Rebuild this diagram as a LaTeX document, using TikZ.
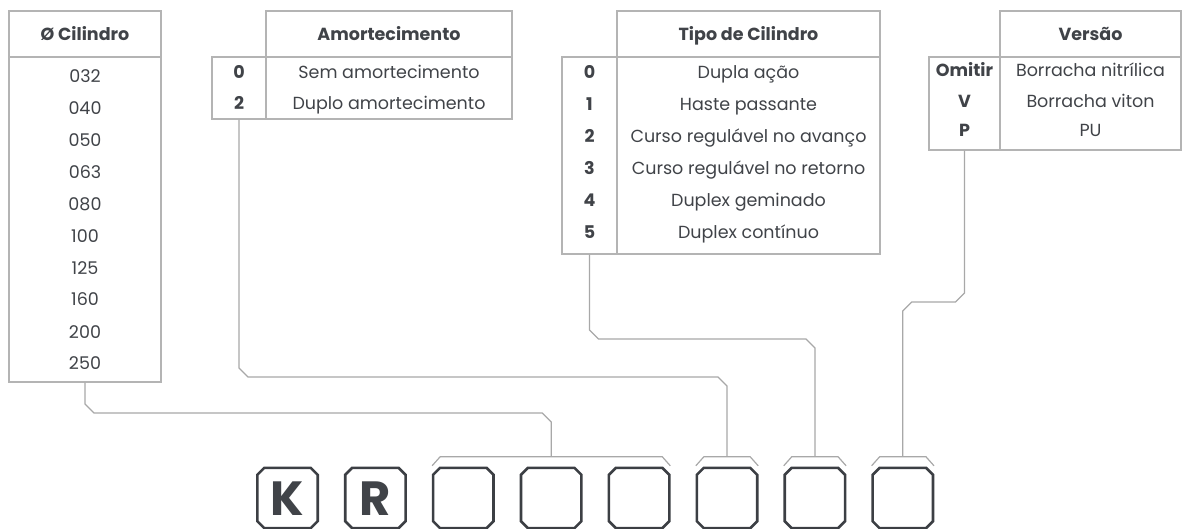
\documentclass[tikz,border=0pt]{standalone}
\usepackage{fontspec}
\setmainfont{Poppins}
\usetikzlibrary{calc}
\definecolor{ink}{HTML}{404348}
\definecolor{rulegray}{HTML}{B4B4B4}
\definecolor{wiregray}{HTML}{A8A8A8}
\definecolor{slotgray}{HTML}{3C3F44}

\begin{document}
\begin{tikzpicture}
[x=1pt, y=-1pt,
 every node/.style={inner sep=0pt, text=ink},
 cell/.style={rectangle, draw=rulegray, line width=1.2pt},
 head/.style={font=\fontsize{17.5}{20}\selectfont\bfseries, text height=12.2pt, text depth=0pt},
 val/.style={font=\fontsize{17.5}{20}\selectfont, text height=12.2pt, text depth=0pt},
 key/.style={font=\fontsize{17.5}{20}\selectfont\bfseries, text height=12.2pt, text depth=0pt},
 wire/.style={draw=wiregray, line width=1.2pt},
 slot/.style={rectangle, minimum width=60pt, minimum height=60pt},
 slotline/.style={draw=slotgray, line width=2.6pt, line join=miter},
 letter/.style={font=\fontsize{48}{48}\selectfont\bfseries, text height=34pt, text depth=0pt}]
\useasboundingbox (0,0) rectangle (1182,529);

% diametro
\node (cilhead) [cell, head, minimum width=152pt, minimum height=46pt] at (85, 34) {Ø Cilindro};
\node (cilbody) [cell, minimum width=152pt, minimum height=325pt] at (85, 219.5) {};
\node (cil1) [val] at (85, 76) {032};
\node (cil2) [val] at (85, 108) {040};
\node (cil3) [val] at (85, 140) {050};
\node (cil4) [val] at (85, 172) {063};
\node (cil5) [val] at (85, 204) {080};
\node (cil6) [val] at (85, 236) {100};
\node (cil7) [val] at (85, 268) {125};
\node (cil8) [val] at (85, 299) {160};
\node (cil9) [val] at (85, 332) {200};
\node (cil10) [val] at (85, 363) {250};

% amortecimento
\node (amorthead) [cell, head, minimum width=246pt, minimum height=46pt] at (389, 34) {Amortecimento};
\node (amortkey) [cell, minimum width=54pt, minimum height=62pt] at (239, 88) {};
\node (amortval) [cell, minimum width=246pt, minimum height=62pt] at (389, 88) {};
\node (amortk1) [key] at (239, 72) {0};
\node (amortk2) [key] at (239, 103) {2};
\node (amortv1) [val] at (389, 72) {Sem amortecimento};
\node (amortv2) [val] at (389, 103) {Duplo amortecimento};

% tipo
\node (tipohead) [cell, head, minimum width=263pt, minimum height=46pt] at (748.5, 34) {Tipo de Cilindro};
\node (tipokey) [cell, minimum width=55pt, minimum height=197pt] at (589.5, 155.5) {};
\node (tipoval) [cell, minimum width=263pt, minimum height=197pt] at (748.5, 155.5) {};
\node (tipok1) [key] at (589.5, 72) {0};
\node (tipok2) [key] at (589.5, 104) {1};
\node (tipok3) [key] at (589.5, 136) {2};
\node (tipok4) [key] at (589.5, 168) {3};
\node (tipok5) [key] at (589.5, 200) {4};
\node (tipok6) [key] at (589.5, 232) {5};
\node (tipov1) [val] at (748.5, 72) {Dupla ação};
\node (tipov2) [val] at (748.5, 104) {Haste passante};
\node (tipov3) [val] at (748.5, 136) {Curso regulável no avanço};
\node (tipov4) [val] at (748.5, 168) {Curso regulável no retorno};
\node (tipov5) [val] at (748.5, 200) {Duplex geminado};
\node (tipov6) [val] at (748.5, 232) {Duplex contínuo};

% versao
\node (verhead) [cell, head, minimum width=181pt, minimum height=46pt] at (1090.5, 34) {Versão};
\node (verkey) [cell, minimum width=71pt, minimum height=93pt] at (964.5, 103.5) {};
\node (verval) [cell, minimum width=181pt, minimum height=93pt] at (1090.5, 103.5) {};
\node (verk1) [key] at (964.5, 70) {Omitir};
\node (verk2) [key] at (964.5, 101) {V};
\node (verk3) [key] at (964.5, 130) {P};
\node (verv1) [val] at (1090.5, 70) {Borracha nitrílica};
\node (verv2) [val] at (1090.5, 101) {Borracha viton};
\node (verv3) [val] at (1090.5, 130) {PU};

% codigo
\node (s1) [slot] at (287.5, 498) {};
\node (s2) [slot] at (375.4, 498) {};
\node (s3) [slot] at (463.3, 498) {};
\node (s4) [slot] at (551.2, 498) {};
\node (s5) [slot] at (639.1, 498) {};
\node (s6) [slot] at (727.0, 498) {};
\node (s7) [slot] at (814.9, 498) {};
\node (s8) [slot] at (902.8, 498) {};
\foreach \s in {s1,s2,s3,s4,s5,s6,s7,s8}
  \draw [slotline] ($(\s.north west)+(7,0)$) -- ($(\s.north east)+(-7,0)$) -- ($(\s.north east)+(0,7)$)
    -- ($(\s.south east)+(0,-7)$) -- ($(\s.south east)+(-7,0)$) -- ($(\s.south west)+(7,0)$)
    -- ($(\s.south west)+(0,-7)$) -- ($(\s.north west)+(0,7)$) -- cycle;
\node (k) [letter] at (s1) {K};
\node (r) [letter] at (s2) {R};

% chaves
\coordinate (brk1) at ($(s3.north)!0.5!(s5.north)+(0,-11)$);
\coordinate (brk2) at ($(s6.north)+(0,-11)$);
\coordinate (brk3) at ($(s7.north)+(0,-11)$);
\coordinate (brk4) at ($(s8.north)+(0,-11)$);
\draw [wire] ($(s3.north west)+(-1,-2)$) -- ++(8,-9) -- ($(s5.north east)+(-7,-11)$) -- ($(s5.north east)+(1,-2)$);
\draw [wire] ($(s6.north west)+(-1,-2)$) -- ++(8,-9) -- ($(s6.north east)+(-7,-11)$) -- ($(s6.north east)+(1,-2)$);
\draw [wire] ($(s7.north west)+(-1,-2)$) -- ++(8,-9) -- ($(s7.north east)+(-7,-11)$) -- ($(s7.north east)+(1,-2)$);
\draw [wire] ($(s8.north west)+(-1,-2)$) -- ++(8,-9) -- ($(s8.north east)+(-7,-11)$) -- ($(s8.north east)+(1,-2)$);

\draw [wire] (cilbody.south) -- (85, 404) -- (94, 413) -- (542.2, 413) -- (551.2, 422) -- (brk1);
\draw [wire] (amortkey.south) -- (239, 368) -- (248, 377) -- (718, 377) -- (727, 386) -- (brk2);
\draw [wire] (tipokey.south) -- (589.5, 330) -- (598.5, 339) -- (805.9, 339) -- (814.9, 348) -- (brk3);
\draw [wire] (verkey.south) -- (964.5, 293) -- (955.5, 302) -- (911.8, 302) -- (902.8, 311) -- (brk4);
\end{tikzpicture}
\end{document}
